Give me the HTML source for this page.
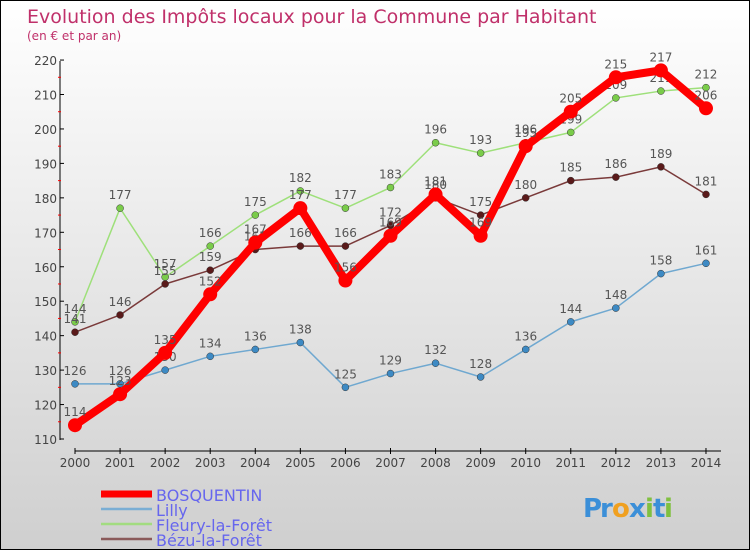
<!DOCTYPE html>
<html><head><meta charset="utf-8"><style>
body{margin:0}
#c{width:748px;height:548px;border:1px solid #000;background:linear-gradient(#fff,#cfcfcf);position:relative;overflow:hidden;font-family:"DejaVu Sans","Liberation Sans",sans-serif}
</style></head><body>
<div id="c">
<svg id="s" width="748" height="548"></svg>
</div>
<script>
const years=[2000,2001,2002,2003,2004,2005,2006,2007,2008,2009,2010,2011,2012,2013,2014];
const bosquentin=[114,123,135,152,167,177,156,169,181,169,195,205,215,217,206];
const lilly=[126,126,130,134,136,138,125,129,132,128,136,144,148,158,161];
const fleury=[144,177,157,166,175,182,177,183,196,193,196,199,209,211,212];
const bezu=[141,146,155,159,165,166,166,172,180,175,180,185,186,189,181];
const yTicks=[110,120,130,140,150,160,170,180,190,200,210,220];
const seriesNames=["BOSQUENTIN","Lilly","Fleury-la-Forêt","Bézu-la-Forêt"];
const s=document.getElementById('s');const NS="http://www.w3.org/2000/svg";
function X(i){return 74+i*45.07;}
function Y(v){return 438-(v-110)*3.445;}
function el(t,a,txt,name){const e=document.createElementNS(NS,t);for(const k in a)e.setAttribute(k,a[k]);if(txt!==undefined)e.textContent=txt;


s.appendChild(e);return e;}
el('text',{x:26,y:22,fill:'#c0306a','font-size':19},'Evolution des Impôts locaux pour la Commune par Habitant','chart-title');
el('text',{x:26,y:39,fill:'#c0306a','font-size':12},'(en € et par an)','chart-subtitle');
el('line',{x1:59,y1:60,x2:59,y2:439,stroke:'#000'},undefined,'y-axis');
yTicks.forEach(v=>{el('line',{x1:59,y1:Y(v),x2:63,y2:Y(v),stroke:'#000'},undefined,'y-tick');
el('text',{x:56,y:Y(v)+5,'text-anchor':'end','font-size':12,fill:'#444'},v,'y-tick-label');
if(v<220)el('line',{x1:57,y1:Y(v+5),x2:60,y2:Y(v+5),stroke:'#f00'},undefined,'y-minor-tick');});
el('line',{x1:74,y1:450,x2:720,y2:450,stroke:'#000'},undefined,'x-axis');
years.forEach((y,i)=>{el('line',{x1:X(i),y1:447,x2:X(i),y2:453,stroke:'#000'},undefined,'x-tick');
el('text',{x:X(i),y:466,'text-anchor':'middle','font-size':12,fill:'#444'},y,'x-tick-label');});
function series(d,col,dot,w,r,name,lab){
el('polyline',{points:d.map((v,i)=>X(i)+','+Y(v)).join(' '),fill:'none',stroke:col,'stroke-width':w,'stroke-linejoin':'round'},undefined,name+'-line');
d.forEach((v,i)=>{el('circle',{cx:X(i),cy:Y(v),r:r,fill:dot,stroke:w>3?'none':'#333','stroke-width':0.5},undefined,name+'-point');
el('text',{x:X(i),y:Y(v)-9,'text-anchor':'middle','font-size':12,fill:'#555'},v,name+'-value-label');});}
series(lilly,'#6fa8d0','#3d8ac4',1.5,3.5,'lilly');
series(fleury,'#9ee07a','#7acc4a',1.5,3.5,'fleury');
series(bezu,'#7a3a3a','#5a1a1a',1.5,3.5,'bezu');
series(bosquentin,'#f00','#f00',8,7,'bosquentin');
const lc=['#f00','#7aaed4','#a2dc80','#8a5a5a'],lw=[7,2.5,2.5,2.5];
seriesNames.forEach((n,i)=>{const y=493+i*15;
el('line',{x1:100,y1:y,x2:151,y2:y,stroke:lc[i],'stroke-width':lw[i]},undefined,'legend-swatch');
el('text',{x:155,y:y+7,'font-size':16,fill:'#6666ee'},n,'legend-entry');});
const px=[["P","#3b8fd8"],["r","#3b8fd8"],["o","#f0a020"],["x","#3b8fd8"],["i","#80c040"],["t","#3b8fd8"],["i","#80c040"]];
let xx=582;px.forEach(([c,f],i)=>{el('text',{x:xx,y:516,'font-size':26,'font-weight':'bold',fill:f},c,'proxiti-logo-letter');xx+=[17,12,17,16,8,11,9][i];});
</script>
</body></html>
